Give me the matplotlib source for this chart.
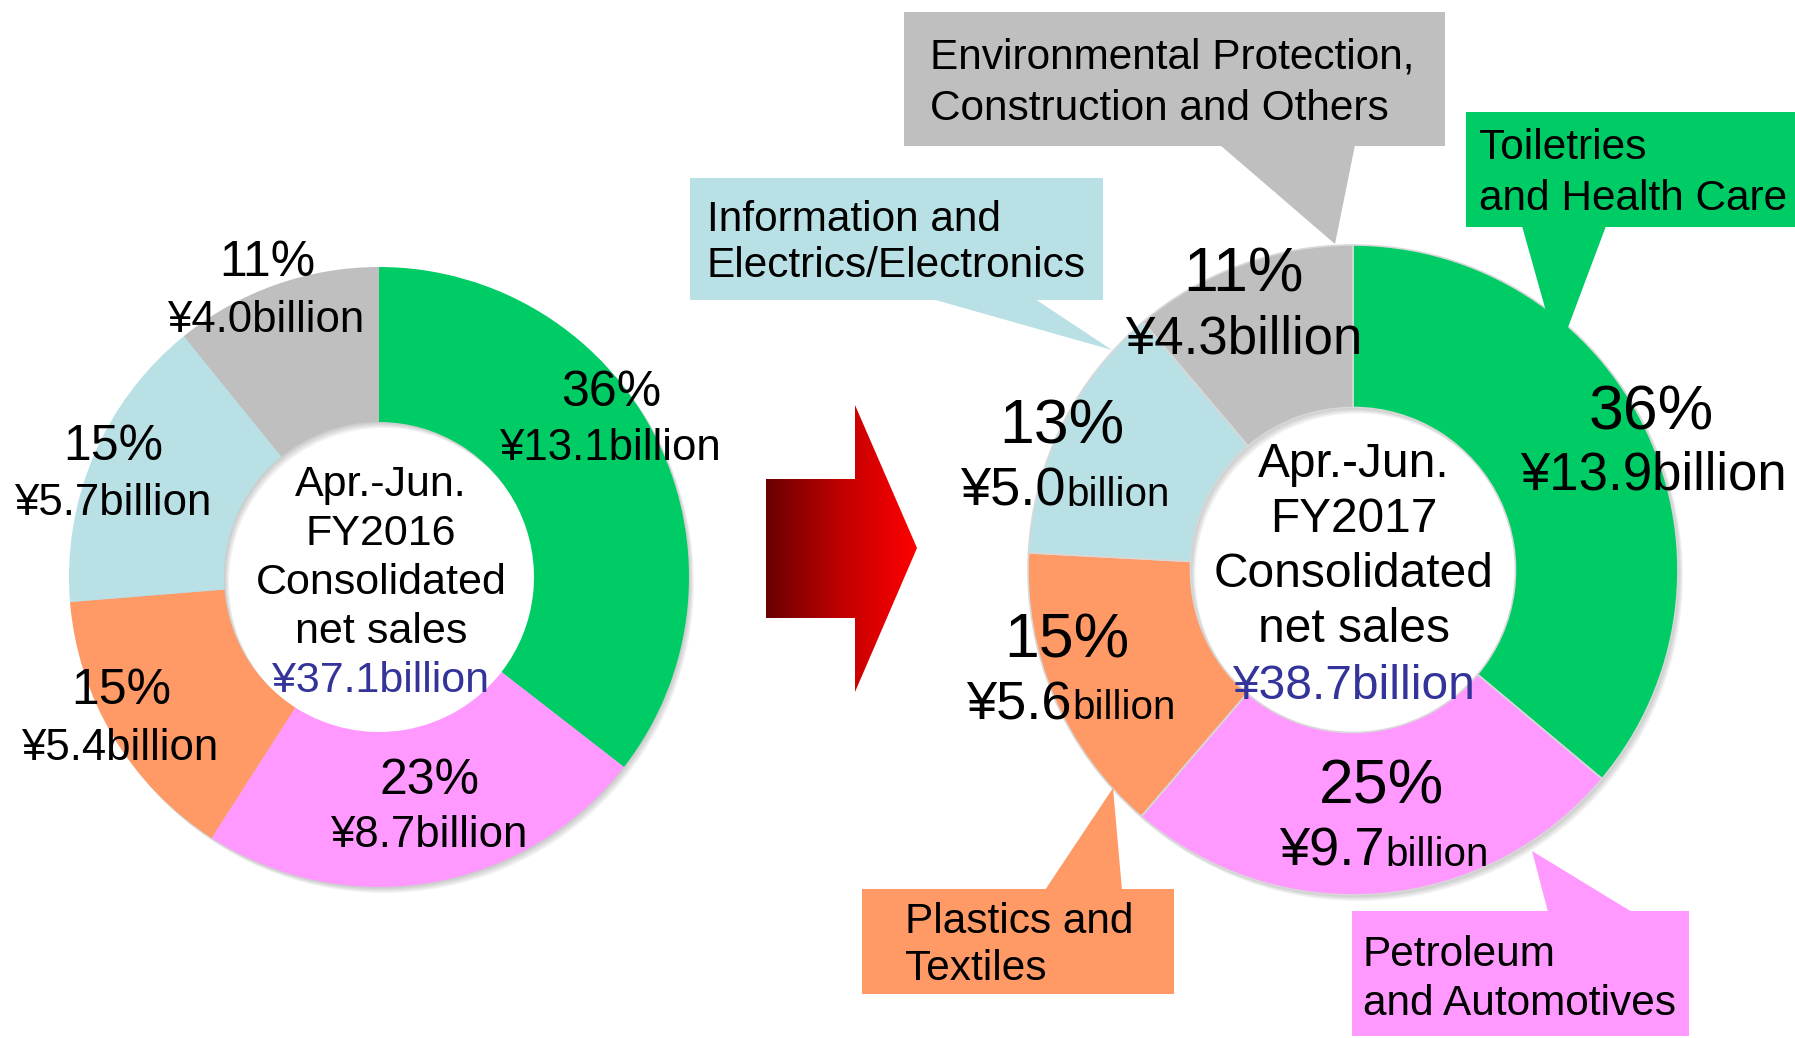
import numpy as np
import matplotlib.pyplot as plt
from matplotlib.patches import Polygon, Wedge
from matplotlib.colors import LinearSegmentedColormap

plt.rcParams['font.family'] = ['Liberation Sans', 'DejaVu Sans']

# segment data (clockwise from 12 o'clock)
segments = ['Toiletries\nand Health Care', 'Petroleum\nand Automotives',
            'Plastics and\nTextiles', 'Information and\nElectrics/Electronics',
            'Environmental Protection,\nConstruction and Others']
colors = ['#00CC66', '#FF99FF', '#FF9966', '#B9E0E4', '#BFBFBF']

sales_2016 = [13.1, 8.7, 5.4, 5.7, 4.0]
pct_2016 = [36, 23, 15, 15, 11]
total_2016 = 37.1
sales_2017 = [13.9, 9.7, 5.6, 5.0, 4.3]
pct_2017 = [36, 25, 15, 13, 11]
total_2017 = 38.7

W, H = 1795, 1038
fig = plt.figure(figsize=(W / 100, H / 100), dpi=100)
ax = fig.add_axes([0, 0, 1, 1])


def fy(y):
    # image (top-down) pixel row -> data y
    return H - y


navy = '#333399'

# donut geometry
c16, R16 = (379, fy(577)), 310
c17, R17 = (1353, fy(570)), 325

# soft drop shadows
for c, R in [(c16, R16), (c17, R17)]:
    for k in range(1, 6):
        ax.add_patch(Wedge((c[0] + k, c[1] - k * 1.2), R, 0, 360, width=R / 2,
                           color='#606060', alpha=0.07, lw=0, zorder=1))

w16, _ = ax.pie(sales_2016, colors=colors, startangle=90, counterclock=False,
                radius=R16, center=c16, frame=True,
                wedgeprops=dict(width=R16 / 2, edgecolor='none'))
w17, _ = ax.pie(sales_2017, colors=colors, startangle=90, counterclock=False,
                radius=R17, center=c17, frame=True,
                wedgeprops=dict(width=R17 / 2, edgecolor='#D8D8D8', lw=1.2))
for w in list(w16) + list(w17):
    w.set_zorder(2)

# left donut labels
left_pct_xy = [(611, 406), (429, 794), (121, 704), (113, 460), (267, 276)]
left_val_xy = [(610, 460), (429, 847), (120, 760), (113, 515), (266, 332)]
for p, v, (px, py), (vx, vy) in zip(pct_2016, sales_2016, left_pct_xy, left_val_xy):
    ax.text(px, fy(py), f'{p}%', fontsize=36, ha='center', va='baseline', zorder=5)
    ax.text(vx, fy(vy), f'¥{v:.1f}billion', fontsize=31.5, ha='center', va='baseline', zorder=5)

center16 = ['Apr.-Jun.', 'FY2016', 'Consolidated', 'net sales']
for i, s in enumerate(center16):
    ax.text(381, fy(496 + 49 * i), s, fontsize=31, ha='center', va='baseline', zorder=5)
ax.text(381, fy(692), f'¥{total_2016}billion', fontsize=31, color=navy,
        ha='center', va='baseline', zorder=5)

# right donut labels
right_pct_xy = [(1651, 430), (1382, 804), (1067, 657), (1062, 443), (1243, 292)]
right_val_xy = [(1653, 490), (1385, 866), (1072, 719), (1066, 506), (1244, 353)]
split_value = [False, True, True, True, False]
for p, v, (px, py), (vx, vy), sp in zip(pct_2017, sales_2017, right_pct_xy,
                                        right_val_xy, split_value):
    ax.text(px, fy(py), f'{p}%', fontsize=45, ha='center', va='baseline', zorder=5)
    if sp:
        ax.text(vx, fy(vy), f'¥{v:.1f}', fontsize=39, ha='right', va='baseline', zorder=5)
        ax.text(vx, fy(vy), 'billion', fontsize=29, ha='left', va='baseline', zorder=5)
    else:
        ax.text(vx, fy(vy), f'¥{v:.1f}billion', fontsize=38, ha='center', va='baseline', zorder=5)

center17 = ['Apr.-Jun.', 'FY2017', 'Consolidated', 'net sales']
for i, s in enumerate(center17):
    ax.text(1354, fy(477 + 55 * i), s, fontsize=34.5, ha='center', va='baseline', zorder=5)
ax.text(1354, fy(699), f'¥{total_2017}billion', fontsize=34.5, color=navy,
        ha='center', va='baseline', zorder=5)

# callout boxes for FY2017 segments
boxes = [(1466, 112, 1795, 227), (1352, 911, 1689, 1036), (862, 889, 1174, 994),
         (690, 178, 1103, 300), (904, 12, 1445, 146)]
pointers = [[(1522, 226), (1606, 226), (1558, 354)],
            [(1548, 912), (1632, 912), (1532, 851)],
            [(1045, 890), (1122, 890), (1113, 788)],
            [(932, 299), (1035, 299), (1112, 350)],
            [(1220, 145), (1355, 145), (1335, 244)]]
text_xy = [(1479, 159), (1363, 966), (905, 933), (707, 231), (930, 68)]
line_gap = [51, 49, 47, 46, 52]
for name, col, (x0, y0, x1, y1), ptr, (tx, ty), gap in zip(segments, colors, boxes,
                                                            pointers, text_xy, line_gap):
    ax.add_patch(Polygon([(x0, fy(y0)), (x1, fy(y0)), (x1, fy(y1)), (x0, fy(y1))],
                         closed=True, color=col, lw=0, zorder=3))
    ax.add_patch(Polygon([(x, fy(y)) for x, y in ptr], closed=True, color=col, lw=0, zorder=3))
    for i, line in enumerate(name.split('\n')):
        ax.text(tx, fy(ty + gap * i), line, fontsize=30.5, ha='left', va='baseline', zorder=5)

# gradient arrow between the two donuts
arrow_pts = [(766, 479), (855, 479), (855, 405), (917, 548), (855, 692), (855, 618), (766, 618)]
arrow = Polygon([(x, fy(y)) for x, y in arrow_pts], closed=True, facecolor='none',
                edgecolor='none')
ax.add_patch(arrow)
grad = np.linspace(0, 1, 256).reshape(1, -1)
cmap = LinearSegmentedColormap.from_list('redgrad', ['#6A0000', '#C00000', '#FF0000'])
im = ax.imshow(grad, cmap=cmap, extent=[766, 917, fy(692), fy(405)], aspect='auto',
               zorder=2, interpolation='bicubic')
im.set_clip_path(arrow)

ax.set_xlim(0, W)
ax.set_ylim(0, H)
ax.set_aspect('auto')
ax.axis('off')
fig.savefig('out.png', dpi=100, facecolor='white')
